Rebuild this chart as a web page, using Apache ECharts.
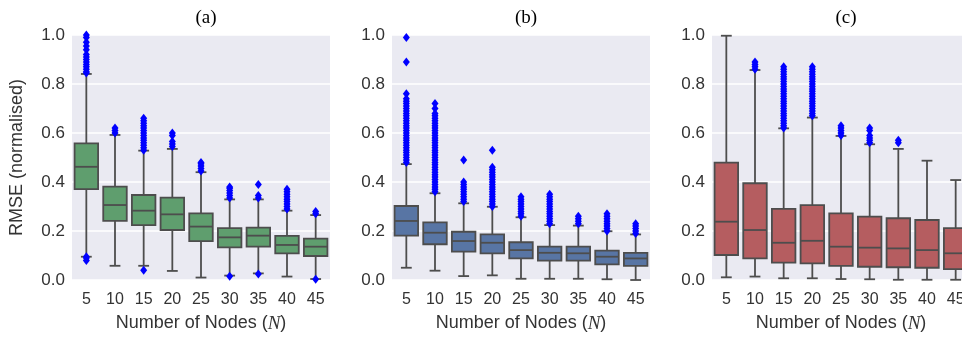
<!DOCTYPE html>
<html>
<head>
<meta charset="utf-8">
<script src="https://cdn.jsdelivr.net/npm/echarts@6/dist/echarts.min.js"></script>
<style>
  html, body { margin: 0; padding: 0; background: #fff; }
  #chart { width: 962px; height: 338px; }
</style>
</head>
<body>
<div id="chart"></div>
<script>
// node counts on the x axis
var nodes = ['5', '10', '15', '20', '25', '30', '35', '40', '45'];
var yTicks = [0, 0.2, 0.4, 0.6, 0.8, 1.0];

// boxes: [min whisker, Q1, median, Q3, max whisker] per node count
var boxA = [
    [0.095, 0.371, 0.462, 0.558, 0.841],
    [0.058, 0.241, 0.306, 0.381, 0.592],
    [0.058, 0.224, 0.283, 0.347, 0.528],
    [0.037, 0.204, 0.268, 0.336, 0.535],
    [0.010, 0.159, 0.218, 0.272, 0.440],
    [0.018, 0.133, 0.174, 0.212, 0.329],
    [0.027, 0.136, 0.181, 0.214, 0.329],
    [0.014, 0.109, 0.143, 0.180, 0.283],
    [0.004, 0.098, 0.136, 0.169, 0.265]
];
var boxB = [
    [0.050, 0.181, 0.241, 0.302, 0.473],
    [0.038, 0.146, 0.193, 0.235, 0.354],
    [0.016, 0.116, 0.159, 0.197, 0.313],
    [0.019, 0.109, 0.152, 0.186, 0.299],
    [0.005, 0.088, 0.122, 0.154, 0.256],
    [0.005, 0.079, 0.111, 0.136, 0.224],
    [0.005, 0.079, 0.109, 0.136, 0.222],
    [0.003, 0.064, 0.095, 0.120, 0.199],
    [0.000, 0.058, 0.088, 0.111, 0.186]
];
var boxC = [
    [0.011, 0.102, 0.238, 0.479, 0.997],
    [0.014, 0.088, 0.204, 0.395, 0.857],
    [0.007, 0.071, 0.152, 0.290, 0.619],
    [0.007, 0.068, 0.160, 0.306, 0.663],
    [0.004, 0.058, 0.136, 0.272, 0.588],
    [0.003, 0.054, 0.132, 0.259, 0.554],
    [0.001, 0.052, 0.129, 0.252, 0.535],
    [0.001, 0.050, 0.122, 0.245, 0.487],
    [0.001, 0.044, 0.109, 0.212, 0.408]
];

// outliers per node count
var outA = [
    [0.845, 0.85, 0.86, 0.87, 0.88, 0.89, 0.90, 0.91, 0.92, 0.94, 0.955, 0.97, 0.99, 1.0, 0.08, 0.09, 0.095],
    [0.60, 0.61, 0.62],
    [0.53, 0.54, 0.55, 0.56, 0.57, 0.58, 0.59, 0.60, 0.61, 0.62, 0.63, 0.64, 0.65, 0.66, 0.04],
    [0.545, 0.555, 0.565, 0.59, 0.60],
    [0.445, 0.455, 0.465, 0.475, 0.48],
    [0.335, 0.345, 0.355, 0.365, 0.375, 0.38, 0.015],
    [0.335, 0.345, 0.39, 0.025],
    [0.29, 0.30, 0.31, 0.32, 0.33, 0.34, 0.35, 0.36, 0.37],
    [0.27, 0.28, 0.003]
];
var outB = [
    [0.48, 0.49, 0.50, 0.51, 0.52, 0.53, 0.54, 0.55, 0.56, 0.57, 0.58, 0.59, 0.60, 0.61, 0.62, 0.63, 0.64, 0.65, 0.66, 0.67, 0.68, 0.69, 0.70, 0.71, 0.72, 0.73, 0.74, 0.76, 0.89, 0.99],
    [0.36, 0.37, 0.38, 0.39, 0.40, 0.41, 0.42, 0.43, 0.44, 0.45, 0.46, 0.47, 0.48, 0.49, 0.50, 0.51, 0.52, 0.53, 0.54, 0.55, 0.56, 0.57, 0.58, 0.59, 0.60, 0.61, 0.62, 0.63, 0.64, 0.65, 0.66, 0.67, 0.68, 0.70, 0.72],
    [0.32, 0.33, 0.34, 0.35, 0.36, 0.37, 0.38, 0.39, 0.40, 0.49],
    [0.30, 0.31, 0.32, 0.33, 0.34, 0.35, 0.36, 0.37, 0.38, 0.39, 0.40, 0.41, 0.42, 0.43, 0.44, 0.45, 0.46, 0.53],
    [0.26, 0.27, 0.28, 0.29, 0.30, 0.31, 0.32, 0.33, 0.34],
    [0.23, 0.24, 0.25, 0.26, 0.27, 0.28, 0.29, 0.30, 0.31, 0.32, 0.33, 0.34, 0.35],
    [0.23, 0.24, 0.25, 0.26],
    [0.20, 0.21, 0.22, 0.23, 0.24, 0.25, 0.26, 0.27],
    [0.19, 0.20, 0.21, 0.22, 0.23]
];
var outC = [
    [],
    [0.86, 0.87, 0.88, 0.89],
    [0.62, 0.63, 0.64, 0.65, 0.66, 0.67, 0.68, 0.69, 0.70, 0.71, 0.72, 0.73, 0.74, 0.75, 0.76, 0.77, 0.78, 0.79, 0.80, 0.81, 0.82, 0.83, 0.84, 0.85, 0.86, 0.87],
    [0.67, 0.68, 0.69, 0.70, 0.71, 0.72, 0.73, 0.74, 0.75, 0.76, 0.77, 0.78, 0.79, 0.80, 0.81, 0.82, 0.83, 0.84, 0.85, 0.86, 0.87],
    [0.59, 0.60, 0.61, 0.62, 0.63],
    [0.56, 0.57, 0.58, 0.59, 0.61, 0.62],
    [0.56, 0.57],
    [],
    []
];

var panels = [
    {title: '(a)', left: 72, box: boxA, out: outA, color: '#5f9e6e'},
    {title: '(b)', left: 392, box: boxB, out: outB, color: '#5875a4'},
    {title: '(c)', left: 712, box: boxC, out: outC, color: '#b55d60'}
];
var gridW = 258, gridTop = 35, gridH = 245;
var lineColor = '#4d4d4d';

function renderBox(fill) {
    return function (params, api) {
        var x = api.value(0);
        var pMin = api.coord([x, api.value(1)]);
        var pQ1 = api.coord([x, api.value(2)]);
        var pMed = api.coord([x, api.value(3)]);
        var pQ3 = api.coord([x, api.value(4)]);
        var pMax = api.coord([x, api.value(5)]);
        var band = api.size([1, 0])[0];
        var w = band * 0.82, cap = w * 0.46;
        var cx = pMed[0];
        var ls = {stroke: lineColor, lineWidth: 1.8};
        return {
            type: 'group',
            children: [
                {type: 'line', shape: {x1: cx, y1: pMin[1], x2: cx, y2: pQ1[1]}, style: ls},
                {type: 'line', shape: {x1: cx, y1: pQ3[1], x2: cx, y2: pMax[1]}, style: ls},
                {type: 'line', shape: {x1: cx - cap / 2, y1: pMin[1], x2: cx + cap / 2, y2: pMin[1]}, style: ls},
                {type: 'line', shape: {x1: cx - cap / 2, y1: pMax[1], x2: cx + cap / 2, y2: pMax[1]}, style: ls},
                {type: 'rect', shape: {x: cx - w / 2, y: pQ3[1], width: w, height: pQ1[1] - pQ3[1]},
                    style: {fill: fill, stroke: lineColor, lineWidth: 1.8}},
                {type: 'line', shape: {x1: cx - w / 2, y1: pMed[1], x2: cx + w / 2, y2: pMed[1]}, style: ls}
            ]
        };
    };
}

var option = {
    backgroundColor: '#ffffff',
    animation: false,
    title: [],
    grid: [],
    xAxis: [],
    yAxis: [],
    series: []
};

panels.forEach(function (p, i) {
    option.title.push({
        text: p.title,
        left: p.left + gridW / 2,
        top: 4,
        textAlign: 'center',
        textStyle: {fontFamily: 'Liberation Serif', fontSize: 19, fontWeight: 'normal', color: '#000'}
    });
    option.grid.push({
        left: p.left, top: gridTop, width: gridW, height: gridH,
        containLabel: false,
        outerBoundsMode: 'none',
        show: true, backgroundColor: '#eaeaf2', borderWidth: 0
    });
    option.xAxis.push({
        type: 'category',
        gridIndex: i,
        data: nodes,
        name: 'Number of Nodes ({i|N})',
        nameLocation: 'middle',
        nameGap: 34,
        nameTextStyle: {
            fontFamily: 'Liberation Sans', fontSize: 18, color: '#333',
            rich: {i: {fontFamily: 'Liberation Serif', fontStyle: 'italic', fontSize: 19, color: '#333'}}
        },
        axisLine: {show: false},
        axisTick: {show: false},
        splitLine: {show: false},
        axisLabel: {fontFamily: 'Liberation Sans', fontSize: 16, color: '#333', margin: 12}
    });
    option.yAxis.push({
        type: 'value',
        gridIndex: i,
        min: 0, max: 1, interval: 0.2,
        name: i === 0 ? 'RMSE (normalised)' : '',
        nameLocation: 'middle',
        nameGap: 46,
        nameTextStyle: {fontFamily: 'Liberation Sans', fontSize: 18, color: '#333'},
        axisLine: {show: false},
        axisTick: {show: false},
        splitLine: {show: true, lineStyle: {color: '#ffffff', width: 1.5}},
        axisLabel: {
            fontFamily: 'Liberation Sans', fontSize: 17, color: '#333', margin: 7,
            formatter: function (v) { return v.toFixed(1); }
        }
    });
    var boxData = p.box.map(function (b, k) { return [k].concat(b); });
    option.series.push({
        type: 'custom',
        xAxisIndex: i, yAxisIndex: i,
        renderItem: renderBox(p.color),
        encode: {x: 0, y: [1, 2, 3, 4, 5]},
        data: boxData,
        clip: false,
        z: 2
    });
    var outData = [];
    p.out.forEach(function (vals, k) {
        vals.forEach(function (v) { outData.push([k, v]); });
    });
    option.series.push({
        type: 'scatter',
        xAxisIndex: i, yAxisIndex: i,
        symbol: 'diamond',
        symbolSize: [7, 9],
        itemStyle: {color: '#0000ff', opacity: 1},
        data: outData,
        clip: false,
        z: 3
    });
});

var chart = echarts.init(document.getElementById('chart'));
chart.setOption(option);
</script>
</body>
</html>
